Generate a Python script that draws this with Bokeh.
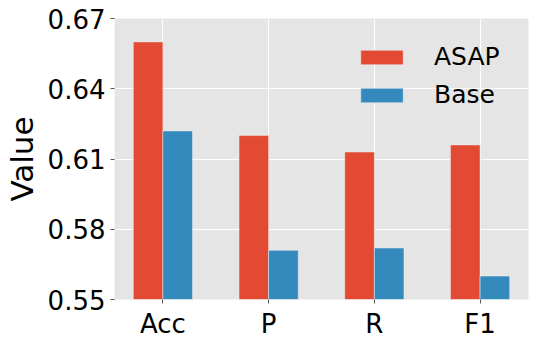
from bokeh.plotting import figure
from bokeh.models import Range1d, FixedTicker, ColumnDataSource, Legend, LegendItem
from bokeh.embed import file_html
from bokeh.resources import INLINE
import numpy as np

categories = ["Acc", "P", "R", "F1"]
asap = [0.660, 0.620, 0.613, 0.616]
base = [0.622, 0.571, 0.572, 0.560]
y_ticks = [0.55, 0.58, 0.61, 0.64, 0.67]
y_tick_labels = ["0.55", "0.58", "0.61", "0.64", "0.67"]

x = np.arange(len(categories))
bw = 0.28

p = figure(frame_width=414, frame_height=281, output_backend="svg", toolbar_location=None,
           x_range=Range1d(-0.458, len(categories) - 1 + 0.458),
           y_range=Range1d(0.55, 0.67),
           min_border_left=108, min_border_right=2, min_border_top=18, min_border_bottom=0)

p.background_fill_color = "#E5E5E5"
p.border_fill_color = "white"
p.outline_line_color = None

src = ColumnDataSource(dict(xa=x - bw / 2, xb=x + bw / 2, asap=asap, base=base))
r1 = p.vbar(x="xa", top="asap", bottom=0.55, width=bw, source=src,
            fill_color="#E24A33", line_color="#EEEEEE", line_width=0.5)
r2 = p.vbar(x="xb", top="base", bottom=0.55, width=bw, source=src,
            fill_color="#348ABD", line_color="#EEEEEE", line_width=0.5)

p.xaxis.ticker = FixedTicker(ticks=list(x))
p.xaxis.major_label_overrides = {int(i): c for i, c in zip(x, categories)}
p.yaxis.ticker = FixedTicker(ticks=y_ticks)
p.yaxis.major_label_overrides = {t: l for t, l in zip(y_ticks, y_tick_labels)}

for ax in (p.xaxis, p.yaxis):
    ax.axis_line_color = None
    ax.major_tick_line_color = "#555555"
    ax.major_tick_in = 0
    ax.major_tick_out = 4
    ax.minor_tick_line_color = None
    ax.major_label_text_font = "DejaVu Sans"
    ax.major_label_text_font_size = "26px"
    ax.major_label_text_color = "black"
    ax.major_label_standoff = 5

p.yaxis.axis_label = "Value"
p.yaxis.axis_label_text_font = "DejaVu Sans"
p.yaxis.axis_label_text_font_size = "31px"
p.yaxis.axis_label_text_font_style = "normal"
p.yaxis.axis_label_text_color = "black"
p.yaxis.axis_label_standoff = 5

p.xgrid.grid_line_color = "white"
p.ygrid.grid_line_color = "white"
p.xgrid.grid_line_width = 1
p.ygrid.grid_line_width = 1

legend = Legend(items=[LegendItem(label="ASAP", renderers=[r1]),
                       LegendItem(label="Base", renderers=[r2])],
                location=(241, 190))
legend.background_fill_alpha = 0
legend.border_line_color = None
legend.label_text_font = "DejaVu Sans"
legend.label_text_font_size = "25px"
legend.label_text_color = "black"
legend.glyph_width = 53
legend.glyph_height = 18
legend.label_standoff = 26
legend.spacing = 9
legend.padding = 10
legend.margin = 0
p.add_layout(legend)

open("out.html", "w").write(file_html(p, INLINE))
